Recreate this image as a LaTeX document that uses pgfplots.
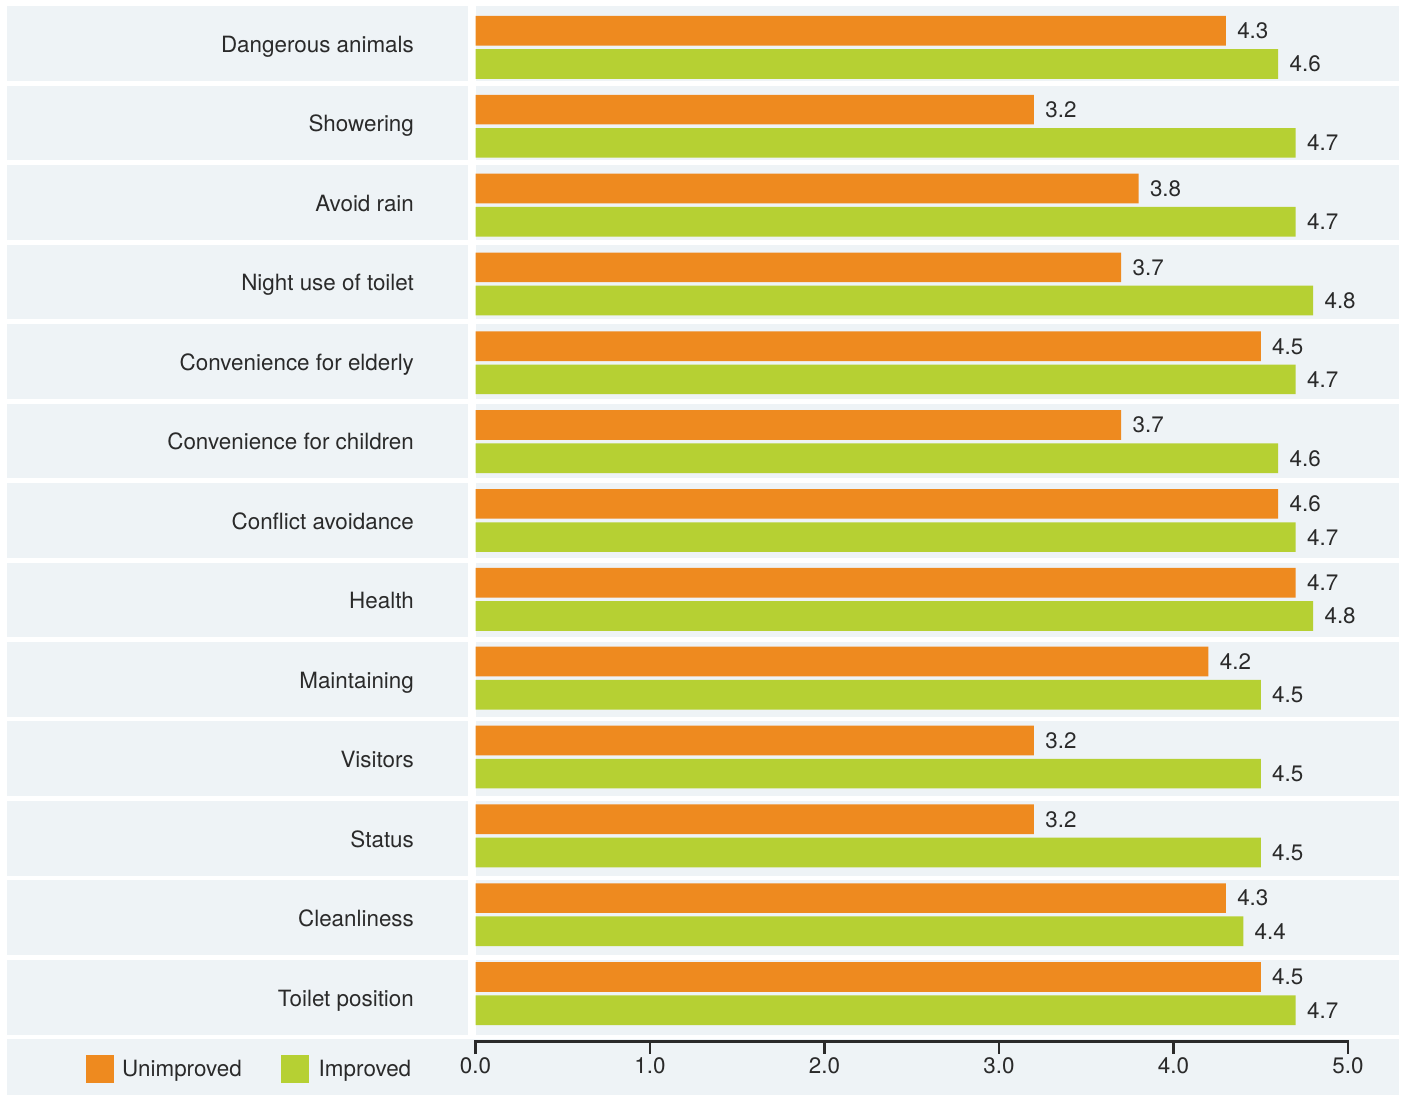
\documentclass[border=0pt]{standalone}
\usepackage{fontspec}
\setmainfont{TeX Gyre Heros}
\usepackage{pgfplots}
\pgfplotsset{compat=1.18}
\definecolor{unimp}{HTML}{EE8A1F}
\definecolor{imp}{HTML}{B6D033}
\definecolor{band}{HTML}{EEF3F6}
\definecolor{txt}{HTML}{2A2A2A}
\begin{document}
\fontsize{11.2}{13.4}\selectfont
\begin{tikzpicture}
\begin{axis}[
  scale only axis, width=701.5pt, height=547.5pt,
  xmin=-2.725, xmax=5.315, ymin=0, ymax=13.774, y dir=reverse,
  axis lines=none, clip=false,
  /pgf/number format/.cd, assume math mode=true, fixed, fixed zerofill, precision=1,
  /pgfplots/.cd,
  every node near coord/.append style={anchor=west, inner sep=0pt, xshift=5.5pt, text=txt, font=\fontsize{11.2}{13.4}\selectfont},
]
% page extent
\path (axis cs:-2.725,0) rectangle (axis cs:5.315,13.774);
% row bands
\foreach \i in {0,...,12}{
  \pgfmathsetmacro\t{\i+0.0755}
  \pgfmathsetmacro\b{\i+1.015}
  \edef\tmp{\noexpand\fill[band] (axis cs:-2.685,\t) rectangle (axis cs:-0.043,\b);
    \noexpand\fill[band] (axis cs:0,\t) rectangle (axis cs:5.292,\b);}
  \tmp
}
% bottom band
\fill[band] (axis cs:-2.685,13.069) rectangle (axis cs:5.292,13.774);

% bars
\addplot[xbar, bar width=0.3736, bar shift=0pt, fill=unimp, draw=none, nodes near coords, point meta=x]
coordinates {(4.3,0.387) (3.2,1.379) (3.8,2.371) (3.7,3.363) (4.5,4.355) (3.7,5.346) (4.6,6.338) (4.7,7.330) (4.2,8.322) (3.2,9.314) (3.2,10.306) (4.3,11.297) (4.5,12.289)};
\addplot[xbar, bar width=0.3736, bar shift=0pt, fill=imp, draw=none, nodes near coords, point meta=x]
coordinates {(4.6,0.805) (4.7,1.797) (4.7,2.789) (4.8,3.780) (4.7,4.772) (4.6,5.764) (4.7,6.756) (4.8,7.748) (4.5,8.740) (4.5,9.731) (4.5,10.723) (4.4,11.715) (4.7,12.707)};

% category labels
\begin{scope}[every node/.style={anchor=base east, inner sep=0pt, text=txt}]
\node at (axis cs:-0.351,0.655) {Dangerous animals};
\node at (axis cs:-0.351,1.655) {Showering};
\node at (axis cs:-0.351,2.655) {Avoid rain};
\node at (axis cs:-0.351,3.655) {Night use of toilet};
\node at (axis cs:-0.351,4.655) {Convenience for elderly};
\node at (axis cs:-0.351,5.655) {Convenience for children};
\node at (axis cs:-0.351,6.655) {Conflict avoidance};
\node at (axis cs:-0.351,7.655) {Health};
\node at (axis cs:-0.351,8.655) {Maintaining};
\node at (axis cs:-0.351,9.655) {Visitors};
\node at (axis cs:-0.351,10.655) {Status};
\node at (axis cs:-0.351,11.655) {Cleanliness};
\node at (axis cs:-0.351,12.655) {Toilet position};
\end{scope}

% x axis
\draw[txt, line width=1.3pt] (axis cs:0,13.258) -- (axis cs:0,13.10) -- (axis cs:5,13.10) -- (axis cs:5,13.258);
\pgfplotsinvokeforeach{1,2,3,4}{\draw[txt, line width=1.3pt] (axis cs:#1,13.10) -- (axis cs:#1,13.258);}
\pgfplotsinvokeforeach{0,1,2,3,4,5}{\node[anchor=base, inner sep=0pt, text=txt] at (axis cs:#1,13.509) {#1.0};}

% legend
\fill[unimp] (axis cs:-2.232,13.270) rectangle (axis cs:-2.072,13.623);
\node[anchor=base west, inner sep=0pt, text=txt] at (axis cs:-2.028,13.543) {Unimproved};
\fill[imp] (axis cs:-1.115,13.270) rectangle (axis cs:-0.954,13.623);
\node[anchor=base west, inner sep=0pt, text=txt] at (axis cs:-0.901,13.543) {Improved};
\end{axis}
\end{tikzpicture}
\end{document}
